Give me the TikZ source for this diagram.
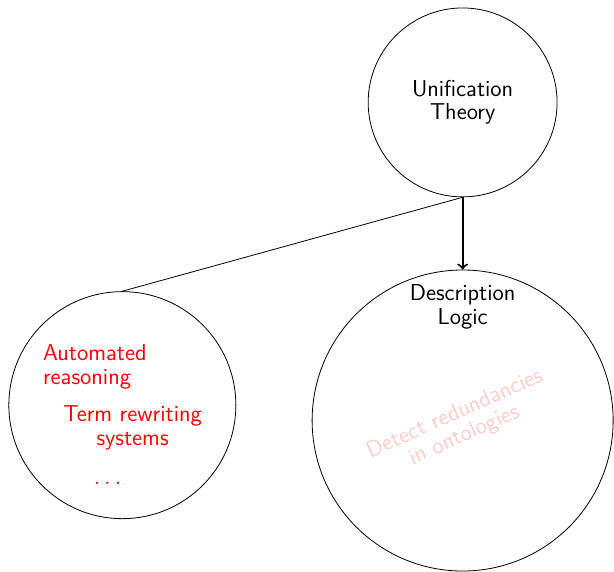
\documentclass[tikz,border=0pt]{standalone}
\usepackage{fontspec}
\begin{document}
\begin{tikzpicture}
[font=\sffamily\fontsize{11.5}{11.8}\selectfont]
\tikzstyle{topic}=[circle, draw, align=center]
\tikzstyle{item}=[inner sep=0mm, text=red]
\useasboundingbox (0,0) rectangle (10.79,10.05);

\node[topic, minimum size=3.32cm]	(U)	at (8.13,8.25)	{Unification\\Theory};
\node[topic, minimum size=5.29cm]	(D)	at (8.13,2.66)	{};
\node[topic, minimum size=3.99cm]	(A)	at (2.15,2.93)	{};

\node	(Dt)	at (8.13,4.66)	[align=center, inner sep=0mm]	{Description\\Logic};
\node	(Dr)	at (8.08,2.58)	[rotate=24, align=center, text=red!20]	{Detect redundancies\\in ontologies};

\node[item]	(A1)	at (0.75,3.60)	[anchor=west, align=left]	{Automated\\reasoning};
\node[item]	(A2)	at (2.33,2.53)	[align=center]	{Term rewriting\\systems};
\node[item]	(A3)	at (1.89,1.53)	[anchor=base]	{$\ldots$};

\draw (U.south)--(A.north);
\draw [line width=1pt, ->] (U.south)--(D.north);
\end{tikzpicture}
\end{document}
